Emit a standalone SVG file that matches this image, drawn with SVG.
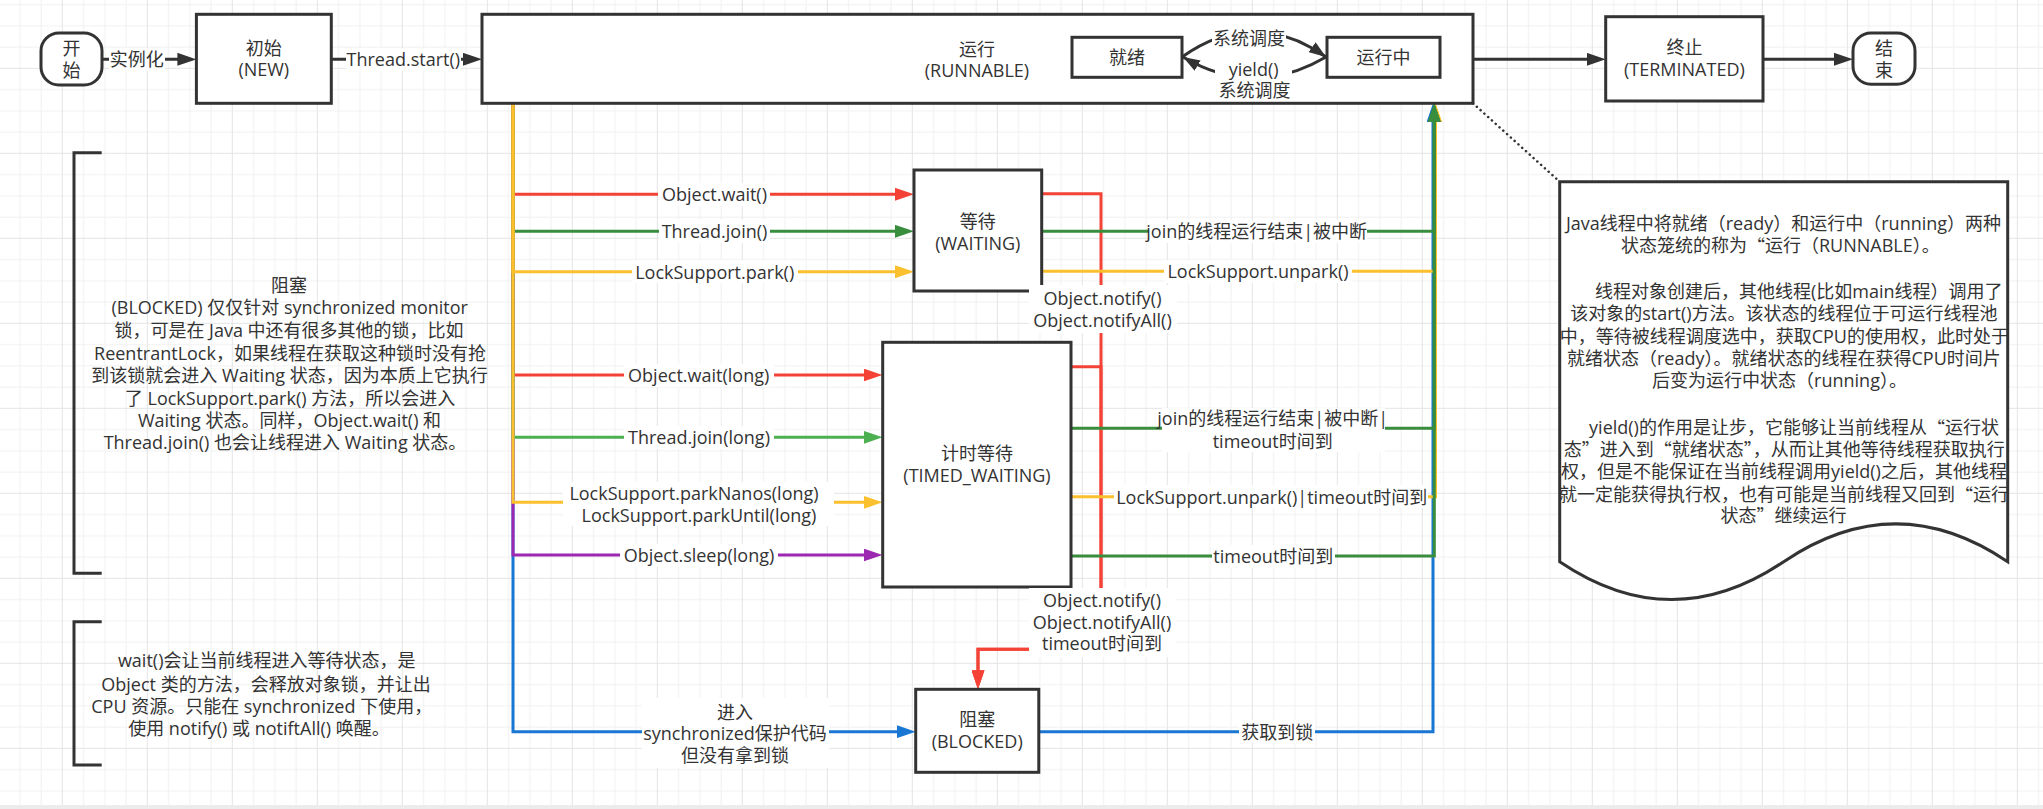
<svg xmlns="http://www.w3.org/2000/svg" width="2043" height="809" viewBox="0 0 2043 809">
<style>
.t{font-family:"Open Sans","Noto Sans CJK SC",sans-serif;font-size:18px;fill:#333;text-anchor:middle;dominant-baseline:central}
.q{font-family:"Noto Sans CJK SC",sans-serif}
.box{fill:#fff;stroke:#333;stroke-width:3}
.e{fill:none;stroke-width:3}
.lb{fill:#fff}
.k{stroke:#333}.r{stroke:#f44336}.g{stroke:#388e3c}.gl{stroke:#4caf50}.o{stroke:#fbc02d}.p{stroke:#9c27b0}.b{stroke:#1976d2}
.br{fill:none;stroke:#333;stroke-width:3}
</style>
<defs>
<pattern id="grid" patternUnits="userSpaceOnUse" x="-23.2" y="-17.2" width="85" height="85">
<path d="M21.75 0V85M43 0V85M64.25 0V85M0 21.75H85M0 43H85M0 64.25H85" stroke="#f0f0f0" stroke-width="1"/>
<path d="M0.5 0V85M0 0.5H85" stroke="#e4e4e4" stroke-width="1"/>
</pattern>
<marker id="ak" markerUnits="userSpaceOnUse" markerWidth="19" markerHeight="13" refX="2" refY="6.5" orient="auto"><path d="M0,0L19,6.5L0,13Z" fill="#333"/></marker>
<marker id="akc" markerUnits="userSpaceOnUse" markerWidth="17" markerHeight="12" refX="17" refY="6" orient="auto"><path d="M0,0L17,6L0,12Z" fill="#333"/></marker>
<marker id="ar" markerUnits="userSpaceOnUse" markerWidth="19" markerHeight="13" refX="2" refY="6.5" orient="auto"><path d="M0,0L19,6.5L0,13Z" fill="#f44336"/></marker>
<marker id="ag" markerUnits="userSpaceOnUse" markerWidth="19" markerHeight="13" refX="2" refY="6.5" orient="auto"><path d="M0,0L19,6.5L0,13Z" fill="#388e3c"/></marker>
<marker id="agl" markerUnits="userSpaceOnUse" markerWidth="19" markerHeight="13" refX="2" refY="6.5" orient="auto"><path d="M0,0L19,6.5L0,13Z" fill="#4caf50"/></marker>
<marker id="ao" markerUnits="userSpaceOnUse" markerWidth="19" markerHeight="13" refX="2" refY="6.5" orient="auto"><path d="M0,0L19,6.5L0,13Z" fill="#fbc02d"/></marker>
<marker id="ap" markerUnits="userSpaceOnUse" markerWidth="19" markerHeight="13" refX="2" refY="6.5" orient="auto"><path d="M0,0L19,6.5L0,13Z" fill="#9c27b0"/></marker>
<marker id="ab" markerUnits="userSpaceOnUse" markerWidth="19" markerHeight="13" refX="2" refY="6.5" orient="auto"><path d="M0,0L19,6.5L0,13Z" fill="#1976d2"/></marker>
</defs>
<rect width="2043" height="809" fill="#fff"/>
<rect width="2043" height="805" fill="url(#grid)"/>
<rect y="805" width="2043" height="4" fill="#ececec"/>

<g id="connectors">
<path class="e k" d="M101.8,59.3H179.4" marker-end="url(#ak)"/>
<path class="e k" d="M331.3,59.3H465" marker-end="url(#ak)"/>
<path class="e k" d="M1473,59.3H1588.7" marker-end="url(#ak)"/>
<path class="e k" d="M1763,59.3H1836" marker-end="url(#ak)"/>
<path d="M1473,103.3L1559.7,181.7" fill="none" stroke="#333" stroke-width="2.5" stroke-dasharray="0.1 5" stroke-linecap="round"/>
<path class="e b" d="M513,103.3V731.7H898.7" marker-end="url(#ab)"/>
<path class="e p" d="M513,103.3V555H865.5" marker-end="url(#ap)"/>
<path class="e r" d="M513,103.3V194.3H897" marker-end="url(#ar)"/>
<path class="e g" d="M513,103.3V231.3H897" marker-end="url(#ag)"/>
<path class="e r" d="M513,103.3V375H865.5" marker-end="url(#ar)"/>
<path class="e gl" d="M513,103.3V437.3H865.5" marker-end="url(#agl)"/>
<path class="e o" d="M513,103.3V271.7H897" marker-end="url(#ao)"/>
<path class="e o" d="M513,103.3V502.3H865.5" marker-end="url(#ao)"/>
<path class="e r" d="M1041.7,193.7H1101V649.3H978V672.3" marker-end="url(#ar)"/>
<path class="e r" d="M1071,366.7H1101V649.3H978V672.3" marker-end="url(#ar)"/>
<path class="e b" d="M1038.8,731.7H1433V120.3" marker-end="url(#ab)"/>
<path class="e o" d="M1041.7,271.3H1435.5V120.3" marker-end="url(#ao)"/>
<path class="e o" d="M1071,496.7H1435.5V120.3" marker-end="url(#ao)"/>
<path class="e g" d="M1041.7,231.3H1434.3V120.3" marker-end="url(#ag)"/>
<path class="e g" d="M1071,428.3H1434.3V120.3" marker-end="url(#ag)"/>
<path class="e g" d="M1071,556H1434.3V120.3" marker-end="url(#ag)"/>
</g>

<g id="start"><rect class="box" x="41" y="33" width="61" height="52" rx="18" ry="18"/><text class="t" x="71.5" y="48">开</text><text class="t" x="71.5" y="70">始</text></g>
<g id="new"><rect class="box" x="196.4" y="14.3" width="134.9" height="89"/><text class="t" x="263.8" y="48.3">初始</text><text class="t" x="263.8" y="69.3">(NEW)</text></g>
<g id="runnable"><rect class="box" x="482" y="14.3" width="991" height="89"/><text class="t" x="977" y="49.3">运行</text><text class="t" x="977" y="69.5">(RUNNABLE)</text></g>
<g id="ready"><rect class="box" x="1072" y="37.3" width="110" height="40"/><text class="t" x="1127" y="57.3">就绪</text></g>
<g id="running"><rect class="box" x="1327" y="37.3" width="113" height="40"/><text class="t" x="1383.5" y="57.3">运行中</text></g>
<g id="terminated"><rect class="box" x="1605.7" y="16.7" width="157.3" height="84.3"/><text class="t" x="1684.4" y="46.7">终止</text><text class="t" x="1684.4" y="69">(TERMINATED)</text></g>
<g id="end"><rect class="box" x="1853" y="33" width="62" height="51.3" rx="18" ry="18"/><text class="t" x="1884" y="48">结</text><text class="t" x="1884" y="70">束</text></g>
<g id="waiting"><rect class="box" x="914" y="170" width="127.7" height="121"/><text class="t" x="977.8" y="220.7">等待</text><text class="t" x="977.8" y="242.7">(WAITING)</text></g>
<g id="timed-waiting"><rect class="box" x="882.7" y="342.3" width="188.3" height="244.7"/><text class="t" x="977" y="453.3">计时等待</text><text class="t" x="977" y="475">(TIMED_WAITING)</text></g>
<g id="blocked"><rect class="box" x="915.7" y="689.3" width="123.1" height="83"/><text class="t" x="977.2" y="719.3">阻塞</text><text class="t" x="977.2" y="740.7">(BLOCKED)</text></g>

<g id="connectors-inner">
<path class="e k" d="M1182,57Q1254,6 1326,57" marker-end="url(#akc)"/>
<path class="e k" d="M1326,57Q1254,99 1183,57" marker-end="url(#akc)"/>
</g>

<g id="note-blocked">
<path class="br" d="M101.7,152.7H74V573.3H101.7"/>
<text class="t" x="289" y="285">阻塞</text>
<text class="t" x="289.7" y="306.7">(BLOCKED) 仅仅针对 synchronized monitor</text>
<text class="t" x="289" y="330">锁，可是在 Java 中还有很多其他的锁，比如</text>
<text class="t" x="290" y="352.7">ReentrantLock，如果线程在获取这种锁时没有抢</text>
<text class="t" x="289.5" y="375">到该锁就会进入 Waiting 状态，因为本质上它执行</text>
<text class="t" x="290" y="397.7">了 LockSupport.park() 方法，所以会进入</text>
<text class="t" x="289.5" y="420">Waiting 状态。同样，Object.wait() 和</text>
<text class="t" x="285" y="442.3">Thread.join() 也会让线程进入 Waiting 状态。</text>
</g>
<g id="note-wait">
<path class="br" d="M101.7,621.7H74V765H101.7"/>
<text class="t" x="266.7" y="660">wait()会让当前线程进入等待状态，是</text>
<text class="t" x="266" y="684">Object 类的方法，会释放对象锁，并让出</text>
<text class="t" x="261.7" y="706">CPU 资源。只能在 synchronized 下使用，</text>
<text class="t" x="259" y="728.3">使用 notify() 或 notiftAll() 唤醒。</text>
</g>
<g id="note-runnable">
<path class="box" d="M1559.7,181.7H2007.7V561.7Q1895.7,486 1783.7,561.7Q1671.7,637.4 1559.7,561.7Z"/>
<text class="t" x="1783.5" y="223.3">Java线程中将就绪（ready）和运行中（running）两种</text>
<text class="t" x="1780.3" y="245">状态笼统的称为<tspan class="q">“</tspan>运行（RUNNABLE）。</text>
<text class="t" x="1798.7" y="290.7">线程对象创建后，其他线程(比如main线程）调用了</text>
<text class="t" x="1783.9" y="312.7">该对象的start()方法。该状态的线程位于可运行线程池</text>
<text class="t" x="1784.3" y="335.7">中，等待被线程调度选中，获取CPU的使用权，此时处于</text>
<text class="t" x="1783.9" y="357.7">就绪状态（ready）。就绪状态的线程在获得CPU时间片</text>
<text class="t" x="1779.5" y="380">后变为运行中状态（running）。</text>
<text class="t" x="1794" y="426.7">yield()的作用是让步，它能够让当前线程从<tspan class="q">“</tspan>运行状</text>
<text class="t" x="1784.3" y="449.3">态<tspan class="q">”</tspan>进入到<tspan class="q">“</tspan>就绪状态<tspan class="q">”</tspan>，从而让其他等待线程获取执行</text>
<text class="t" x="1784" y="470.7">权，但是不能保证在当前线程调用yield()之后，其他线程</text>
<text class="t" x="1784" y="494">就一定能获得执行权，也有可能是当前线程又回到<tspan class="q">“</tspan>运行</text>
<text class="t" x="1783.4" y="515">状态<tspan class="q">”</tspan>继续运行</text>
</g>

<g id="connector-labels">
<rect class="lb" x="109" y="48" width="56" height="23"/><text class="t" x="136.8" y="59.3">实例化</text>
<rect class="lb" x="346" y="48" width="115" height="23"/><text class="t" x="403.3" y="59.3">Thread.start()</text>
<rect class="lb" x="1212" y="27" width="74" height="22"/><text class="t" x="1249" y="37.5">系统调度</text>
<rect class="lb" x="1215" y="58" width="77" height="43"/><text class="t" x="1253.6" y="69">yield()</text><text class="t" x="1254.5" y="90">系统调度</text>
<rect class="lb" x="658" y="183" width="112" height="23"/><text class="t" x="714.5" y="194.3">Object.wait()</text>
<rect class="lb" x="659" y="220" width="111" height="23"/><text class="t" x="714.5" y="231.3">Thread.join()</text>
<rect class="lb" x="632" y="260" width="166" height="23"/><text class="t" x="714.7" y="271.7">LockSupport.park()</text>
<rect class="lb" x="624" y="364" width="150" height="23"/><text class="t" x="698.7" y="375">Object.wait(long)</text>
<rect class="lb" x="624" y="426" width="150" height="23"/><text class="t" x="699" y="437.3">Thread.join(long)</text>
<rect class="lb" x="563" y="482" width="271" height="44"/><text class="t" x="694" y="493.3">LockSupport.parkNanos(long)</text><text class="t" x="699" y="515">LockSupport.parkUntil(long)</text>
<rect class="lb" x="620" y="544" width="158" height="23"/><text class="t" x="699" y="555">Object.sleep(long)</text>
<rect class="lb" x="642" y="698" width="187" height="70"/><text class="t" x="735" y="711.7">进入</text><text class="t" x="735" y="733.3">synchronized保护代码</text><text class="t" x="735" y="755">但没有拿到锁</text>
<rect class="lb" x="1149" y="220" width="218" height="23"/><text class="t" x="1256.7" y="231.3">join的线程运行结束|被中断</text>
<rect class="lb" x="1164" y="260" width="188" height="23"/><text class="t" x="1258" y="271.3">LockSupport.unpark()</text>
<rect class="lb" x="1162" y="408" width="223" height="44"/><text class="t" x="1272.7" y="418.3">join的线程运行结束|被中断|</text><text class="t" x="1272.7" y="440.7">timeout时间到</text>
<rect class="lb" x="1114" y="485" width="314" height="23"/><text class="t" x="1271.7" y="496.7">LockSupport.unpark()|timeout时间到</text>
<rect class="lb" x="1212" y="545" width="123" height="23"/><text class="t" x="1273.3" y="556">timeout时间到</text>
<rect class="lb" x="1239" y="720" width="76" height="23"/><text class="t" x="1277.3" y="731.7">获取到锁</text>
<rect class="lb" x="1029" y="285" width="148" height="48"/><text class="t" x="1102.5" y="298.3">Object.notify()</text><text class="t" x="1102.5" y="320">Object.notifyAll()</text>
<rect class="lb" x="1029" y="588" width="147" height="69"/><text class="t" x="1102" y="600">Object.notify()</text><text class="t" x="1102" y="621.7">Object.notifyAll()</text><text class="t" x="1102" y="643.3">timeout时间到</text>
</g>
</svg>
